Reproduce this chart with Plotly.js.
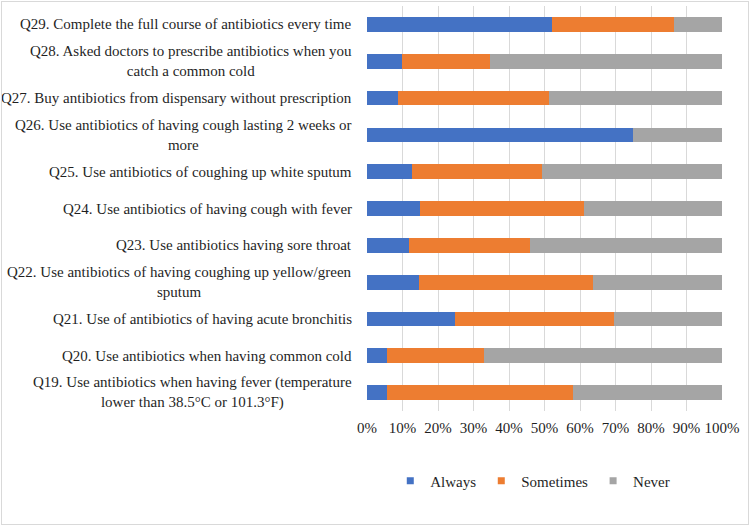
<!DOCTYPE html>
<html>
<head>
<meta charset="utf-8">
<script src="https://cdn.plot.ly/plotly-3.0.1.min.js"></script>
<style>
  body { margin: 0; background: #fff; }
  #frame { position: absolute; left: 1px; top: 1px; width: 746px; height: 522px; border: 1px solid #d9d9d9; }
  #chart { width: 746px; height: 522px; }
</style>
</head>
<body>
<div id="frame"><div id="chart"></div></div>
<script>
// questions, bottom to top as in the chart
var questions = [
  'Q19. Use antibiotics when having fever (temperature<br>lower than 38.5°C or 101.3°F)',
  'Q20. Use antibiotics when having common cold',
  'Q21. Use of antibiotics of having acute bronchitis',
  'Q22. Use antibiotics of having coughing up yellow/green<br>sputum',
  'Q23. Use antibiotics having sore throat',
  'Q24. Use antibiotics of having cough with fever',
  'Q25. Use antibiotics of coughing up white sputum',
  'Q26. Use antibiotics of having cough lasting 2 weeks or<br>more',
  'Q27. Buy antibiotics from dispensary without prescription',
  'Q28. Asked doctors to prescribe antibiotics when you<br>catch a common cold',
  'Q29. Complete the full course of antibiotics every time'
];
var always    = [5.7, 5.7, 24.9, 14.7, 11.8, 14.9, 12.7, 74.9, 8.7, 9.9, 52.1];
var sometimes = [52.4, 27.2, 44.7, 49.1, 34.1, 46.1, 36.7, 0, 42.5, 24.7, 34.5];
var never     = [41.9, 67.1, 30.4, 36.2, 54.1, 39.0, 50.6, 25.1, 48.8, 65.4, 13.4];
var xTicks = [0, 10, 20, 30, 40, 50, 60, 70, 80, 90, 100];

var series = [
  {name: 'Always', values: always, color: '#4472C4'},
  {name: 'Sometimes', values: sometimes, color: '#ED7D31'},
  {name: 'Never', values: never, color: '#A5A5A5'}
];

var font = 'Liberation Serif, Times New Roman, serif';
var textColor = '#1f1f1f';

var traces = [];
series.forEach(function(s){
  traces.push({name: s.name, x: s.values, y: questions, type: 'bar', orientation: 'h',
    marker: {color: s.color}, showlegend: false, legendgroup: s.name});
});
// small square legend keys like Excel
series.forEach(function(s){
  traces.push({name: s.name, x: [null], y: [null], type: 'scatter', mode: 'markers',
    marker: {symbol: 'square', size: 7, color: s.color}, legendgroup: s.name, showlegend: true});
});

// category labels as annotations so wrapped lines are centred like Excel
var labelNotes = questions.map(function(q){
  return {
    text: q, xref: 'paper', yref: 'y', x: -0.036, y: q,
    xanchor: 'right', yanchor: 'middle', align: 'center', showarrow: false,
    font: {family: font, size: 15, color: textColor}
  };
});

var layout = {
  width: 746, height: 522,
  margin: {l: 365, r: 26, t: 4, b: 113},
  barmode: 'stack',
  bargap: 0.6,
  paper_bgcolor: '#fff',
  plot_bgcolor: '#fff',
  font: {family: font, size: 15, color: textColor},
  xaxis: {
    range: [0, 100], tickvals: xTicks, ticktext: xTicks.map(function(v){ return v + '%'; }),
    showgrid: true, gridcolor: '#d9d9d9', gridwidth: 1, zeroline: false, showline: false,
    ticks: '', ticklabelstandoff: 6, tickfont: {family: font, size: 15, color: textColor}
  },
  yaxis: {
    type: 'category', categoryorder: 'array', categoryarray: questions,
    range: [-0.5, questions.length - 0.5],
    showticklabels: false, showgrid: false, zeroline: false, showline: false, ticks: ''
  },
  legend: {
    orientation: 'h', x: 0.467, xanchor: 'center', y: -0.173, yanchor: 'middle',
    font: {family: font, size: 15, color: textColor}, traceorder: 'normal', itemwidth: 30
  },
  annotations: labelNotes,
  showlegend: true
};

Plotly.newPlot('chart', traces, layout, {displayModeBar: false, staticPlot: true});
</script>
</body>
</html>
